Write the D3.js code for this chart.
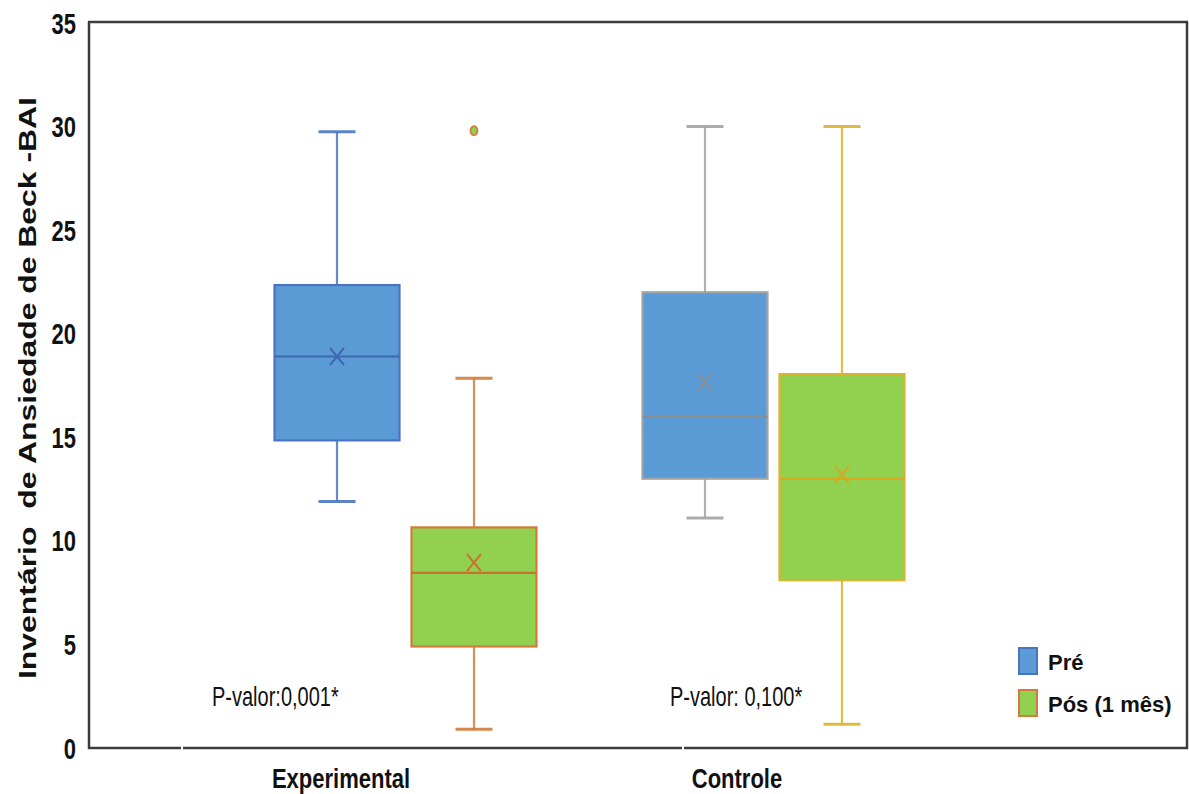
<!DOCTYPE html>
<html>
<head>
<meta charset="utf-8">
<script src="https://cdn.jsdelivr.net/npm/d3@7"></script>
<style>
  html, body { margin: 0; padding: 0; background: #fff; }
  svg { display: block; font-family: "Liberation Sans", Arial, sans-serif; }
</style>
</head>
<body>
<svg id="chart" width="1189" height="794"></svg>
<script>
// ---------- data ----------
const categories = ["Experimental", "Controle"];
const seriesNames = ["Pré", "Pós (1 mês)"];

const preMin    = [11.9, 11.1];
const preQ1     = [14.85, 13.0];
const preMedian = [18.9, 16.0];
const preQ3     = [22.35, 22.0];
const preMax    = [29.75, 30.0];
const preMean   = [18.9, 17.65];
const preOutliers = [[], []];

const posMin    = [0.9, 1.15];
const posQ1     = [4.9, 8.1];
const posMedian = [8.45, 13.0];
const posQ3     = [10.65, 18.05];
const posMax    = [17.85, 30.0];
const posMean   = [8.95, 13.2];
const posOutliers = [[29.8], []];

const yTicks = [0, 5, 10, 15, 20, 25, 30, 35];
const pValues = ["P-valor:0,001*", "P-valor: 0,100*"];
const yTitle = "Inventário  de Ansiedade de Beck -BAI";

// ---------- styles ----------
const fillColors = ["#5b9bd5", "#92d050"];
const lineColors = [["#4a74c2", "#d27b3c"], ["#a3a3a3", "#dcb22e"]]; // [category][series]
const medianColors = [["#3f66b3", "#c9712f"], ["#8d8d8d", "#d6a820"]];
const textColor = "#111";

// ---------- scales ----------
const svg = d3.select("#chart");
const y = d3.scaleLinear().domain([0, 35]).range([748, 23]);
const xGroup = d3.scaleBand().domain(categories).range([221.5, 957.5]).padding(0);
const xSeries = d3.scaleBand().domain(seriesNames).range([0, xGroup.bandwidth()])
  .paddingInner(0.0876).paddingOuter(0.387);
const xLabel = d3.scalePoint().domain(categories).range([341, 737]);
const xPval = d3.scalePoint().domain(categories).range([212, 670]);

// ---------- frame ----------
const frame = svg.append("g").attr("stroke", "#3c3c3c").attr("stroke-width", 2.5).attr("fill", "none");
frame.append("line").attr("x1", 89).attr("x2", 89).attr("y1", 22).attr("y2", y(0) + 1);
frame.append("line").attr("x1", 88).attr("x2", 1188).attr("y1", 22).attr("y2", 22);
frame.append("line").attr("x1", 1187).attr("x2", 1187).attr("y1", 22).attr("y2", y(0) + 1);
// bottom axis in segments (as in the reference)
[[88, 181], [183, 682], [684, 1188]].forEach(s => {
  frame.append("line").attr("x1", s[0]).attr("x2", s[1]).attr("y1", y(0)).attr("y2", y(0));
});

// ---------- y axis ticks labels ----------
svg.append("g").selectAll("text").data(yTicks).join("text")
  .attr("transform", d => `translate(76,${y(d) + 10.5}) scale(1,1.32)`)
  .attr("text-anchor", "end")
  .attr("font-size", 22).attr("font-weight", "bold").attr("fill", textColor)
  .text(d => d);

// y title
svg.append("text")
  .attr("transform", `translate(36,${388}) rotate(-90) scale(1.33,1)`)
  .attr("text-anchor", "middle")
  .attr("font-size", 24).attr("font-weight", "bold").attr("fill", textColor)
  .attr("xml:space", "preserve")
  .style("white-space", "pre")
  .text(yTitle);

// category labels
svg.append("g").selectAll("text").data(categories).join("text")
  .attr("transform", d => `translate(${xLabel(d)},${788}) scale(1,1.25)`)
  .attr("text-anchor", "middle")
  .attr("font-size", 22).attr("font-weight", "bold").attr("fill", textColor)
  .text(d => d);

// p-values
svg.append("g").selectAll("text").data(categories).join("text")
  .attr("transform", d => `translate(${xPval(d)},${706}) scale(1,1.38)`)
  .attr("font-size", 20).attr("fill", textColor)
  .style("white-space", "pre")
  .text((d, i) => pValues[i]);

// ---------- boxes ----------
const boxes = [];
categories.forEach((c, ci) => {
  boxes.push({cat: c, ci, si: 0, min: preMin[ci], q1: preQ1[ci], med: preMedian[ci], q3: preQ3[ci], max: preMax[ci], mean: preMean[ci], out: preOutliers[ci]});
  boxes.push({cat: c, ci, si: 1, min: posMin[ci], q1: posQ1[ci], med: posMedian[ci], q3: posQ3[ci], max: posMax[ci], mean: posMean[ci], out: posOutliers[ci]});
});

const bw = xSeries.bandwidth();
const capHalf = 18.5;
const g = svg.append("g");
boxes.forEach(b => {
  const x0 = xGroup(b.cat) + xSeries(seriesNames[b.si]);
  const cx = x0 + bw / 2;
  const col = lineColors[b.ci][b.si];
  const mcol = medianColors[b.ci][b.si];
  const bg = g.append("g");
  // whiskers
  bg.append("line").attr("x1", cx).attr("x2", cx).attr("y1", y(b.q3)).attr("y2", y(b.max))
    .attr("stroke", col).attr("stroke-width", 2.2).attr("stroke-opacity", 0.85);
  bg.append("line").attr("x1", cx).attr("x2", cx).attr("y1", y(b.q1)).attr("y2", y(b.min))
    .attr("stroke", col).attr("stroke-width", 2.2).attr("stroke-opacity", 0.85);
  bg.append("line").attr("x1", cx - capHalf).attr("x2", cx + capHalf).attr("y1", y(b.max)).attr("y2", y(b.max))
    .attr("stroke", col).attr("stroke-width", 3).attr("stroke-opacity", 0.9);
  bg.append("line").attr("x1", cx - capHalf).attr("x2", cx + capHalf).attr("y1", y(b.min)).attr("y2", y(b.min))
    .attr("stroke", col).attr("stroke-width", 3).attr("stroke-opacity", 0.9);
  // box
  bg.append("rect").attr("x", x0).attr("y", y(b.q3)).attr("width", bw).attr("height", y(b.q1) - y(b.q3))
    .attr("fill", fillColors[b.si]).attr("stroke", col).attr("stroke-width", 2.2);
  // median
  bg.append("line").attr("x1", x0).attr("x2", x0 + bw).attr("y1", y(b.med)).attr("y2", y(b.med))
    .attr("stroke", mcol).attr("stroke-width", 2.2);
  // mean X
  const my = y(b.mean), hx = 7, hy = 8.5;
  bg.append("path").attr("d", `M${cx - hx},${my - hy}L${cx + hx},${my + hy}M${cx + hx},${my - hy}L${cx - hx},${my + hy}`)
    .attr("stroke", mcol).attr("stroke-width", 2).attr("fill", "none");
  // outliers
  bg.selectAll("ellipse").data(b.out).join("ellipse")
    .attr("cx", cx).attr("cy", d => y(d)).attr("rx", 3.5).attr("ry", 4.5)
    .attr("fill", fillColors[b.si]).attr("stroke", col).attr("stroke-width", 1.8);
});

// ---------- legend ----------
const legend = svg.append("g");
const legendY = [648, 690];
seriesNames.forEach((s, i) => {
  legend.append("rect").attr("x", 1019).attr("y", legendY[i]).attr("width", 18).attr("height", 26)
    .attr("fill", fillColors[i]).attr("stroke", lineColors[0][i]).attr("stroke-width", 2);
  legend.append("text").attr("x", 1048).attr("y", legendY[i] + 22)
    .attr("font-size", 22).attr("font-weight", "bold").attr("fill", textColor)
    .text(s);
});
</script>
</body>
</html>
